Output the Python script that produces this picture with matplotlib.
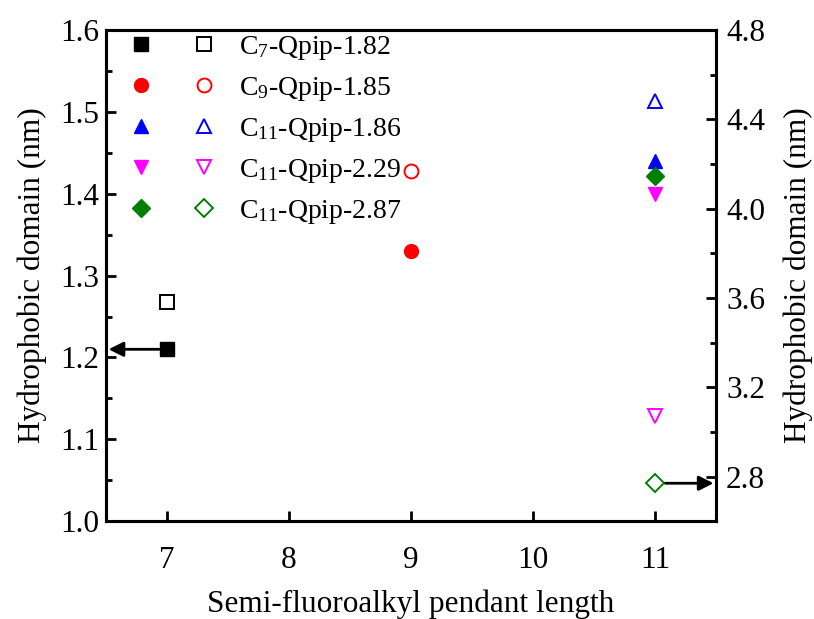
import matplotlib
matplotlib.use("Agg")
import matplotlib.pyplot as plt
from matplotlib.lines import Line2D
from matplotlib.legend_handler import HandlerTuple
from matplotlib.ticker import MultipleLocator

plt.rcParams["font.family"] = ["Liberation Serif", "DejaVu Serif"]
plt.rcParams["mathtext.fontset"] = "custom"
plt.rcParams["mathtext.rm"] = "Liberation Serif"
plt.rcParams["mathtext.it"] = "Liberation Serif:italic"

# data: pendant length, left axis (filled) and right axis (open) values
labels = ["C$_7$-Qpip-1.82", "C$_9$-Qpip-1.85", "C$_{11}$-Qpip-1.86",
          "C$_{11}$-Qpip-2.29", "C$_{11}$-Qpip-2.87"]
length = [7, 9, 11, 11, 11]
left_vals = [1.21, 1.33, 1.44, 1.40, 1.422]
right_vals = [3.58, 4.17, 4.48, 3.07, 2.77]
colors = ["black", "red", "blue", "magenta", "green"]
markers = ["s", "o", "^", "v", "D"]
sizes = [9.5, 10, 10.5, 10.5, 9]

fig = plt.figure(figsize=(8.14, 6.19), dpi=100)
ax = fig.add_axes([0.130, 0.158, 0.750, 0.7935])
ax2 = ax.twinx()

handles = []
for x, yl, yr, c, m, s in zip(length, left_vals, right_vals, colors, markers, sizes):
    ax.plot([x], [yl], linestyle="none", marker=m, ms=s, color=c, mec=c)
    ax2.plot([x], [yr], linestyle="none", marker=m, ms=s, mfc="white", mec=c, mew=1.4)
    h1 = Line2D([], [], linestyle="none", marker=m, ms=s, color=c, mec=c)
    h2 = Line2D([], [], linestyle="none", marker=m, ms=s, mfc="white", mec=c, mew=1.4)
    handles.append((h1, h2))

ax.set_xlim(6.5, 11.5)
ax.set_ylim(1.0, 1.6)
ax2.set_ylim(2.6, 4.8)

# arrows pointing to the axis each series belongs to
ax.annotate("", xy=(6.5, left_vals[0]), xytext=(length[0] - 0.04, left_vals[0]),
            arrowprops=dict(arrowstyle="-|>", color="black", lw=2, mutation_scale=22))
ax2.annotate("", xy=(11.5, right_vals[4]), xytext=(length[4] + 0.06, right_vals[4]),
             arrowprops=dict(arrowstyle="-|>", color="black", lw=2, mutation_scale=22))

ax.xaxis.set_major_locator(MultipleLocator(1))
ax.yaxis.set_major_locator(MultipleLocator(0.1))
ax.yaxis.set_minor_locator(MultipleLocator(0.05))
ax2.set_yticks([2.8, 3.2, 3.6, 4.0, 4.4, 4.8])
ax2.yaxis.set_minor_locator(MultipleLocator(0.2))

ax.tick_params(axis="x", which="major", direction="in", length=7, width=2, labelsize=22.5, pad=18)
ax.tick_params(axis="y", which="major", direction="in", length=7, width=2, labelsize=22.5, pad=5)
ax.tick_params(axis="y", which="minor", direction="in", length=4, width=2)
ax.tick_params(axis="x", which="minor", bottom=False)
ax2.tick_params(axis="y", which="major", direction="in", length=7, width=2, labelsize=22.5, pad=7)
ax2.tick_params(axis="y", which="minor", direction="in", length=4, width=2)
for sp in ax.spines.values():
    sp.set_linewidth(2.2)
for sp in ax2.spines.values():
    sp.set_linewidth(2.2)

ax.set_xlabel("Semi-fluoroalkyl pendant length", fontsize=22.5, labelpad=10)
ax.set_ylabel("Hydrophobic domain (nm)", fontsize=22.5, labelpad=9)
ax2.set_ylabel("Hydrophobic domain (nm)", fontsize=22.5, labelpad=13)

ax2.legend(handles, labels, handler_map={tuple: HandlerTuple(ndivide=None, pad=1.55)},
           loc="upper left", bbox_to_anchor=(0.036, 0.998), frameon=False,
           fontsize=20, handlelength=3.0, handletextpad=0.9, labelspacing=0.47,
           borderpad=0.1, borderaxespad=0)

fig.savefig("out.png", dpi=100)
